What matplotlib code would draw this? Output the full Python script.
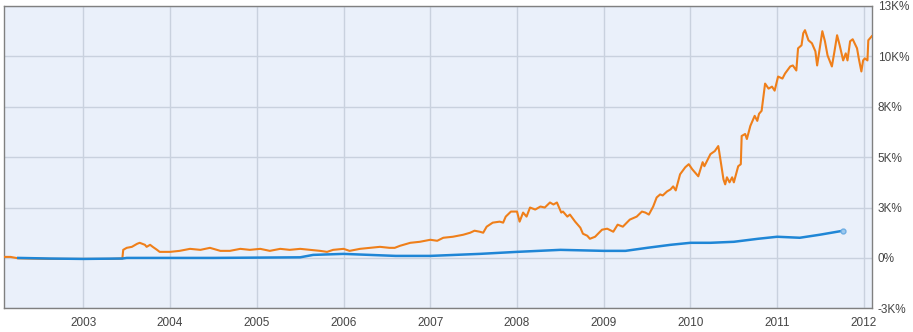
import numpy as np
import matplotlib.pyplot as plt

# =========================
# 数据（年份小数, 百分比）
# =========================

orange_x = [
    2002.09, 2002.16, 2002.25, 2002.62, 2003.00, 2003.31, 2003.45, 2003.46, 2003.50, 2003.56,
    2003.62, 2003.65, 2003.71, 2003.73, 2003.77, 2003.80, 2003.85, 2003.88, 2004.00, 2004.11,
    2004.23, 2004.35, 2004.46, 2004.58, 2004.69, 2004.81, 2004.92, 2005.04, 2005.15, 2005.27,
    2005.38, 2005.50, 2005.61, 2005.73, 2005.81, 2005.88, 2006.00, 2006.07, 2006.19, 2006.30,
    2006.42, 2006.53, 2006.59, 2006.65, 2006.77, 2006.88, 2007.00, 2007.08, 2007.15, 2007.26,
    2007.38, 2007.46, 2007.51, 2007.57, 2007.61, 2007.65, 2007.72, 2007.80, 2007.84, 2007.87,
    2007.93, 2008.00, 2008.03, 2008.07, 2008.11, 2008.15, 2008.21, 2008.27, 2008.32, 2008.38,
    2008.42, 2008.46, 2008.51, 2008.53, 2008.58, 2008.61, 2008.67, 2008.73, 2008.76, 2008.81,
    2008.84, 2008.90, 2008.98, 2009.04, 2009.11, 2009.16, 2009.22, 2009.30, 2009.38, 2009.44,
    2009.48, 2009.52, 2009.57, 2009.61, 2009.65, 2009.68, 2009.73, 2009.77, 2009.80, 2009.83,
    2009.88, 2009.94, 2009.98, 2010.02, 2010.09, 2010.14, 2010.16, 2010.23, 2010.28, 2010.32,
    2010.33, 2010.38, 2010.40, 2010.42, 2010.45, 2010.48, 2010.50, 2010.55, 2010.58, 2010.59,
    2010.63, 2010.65, 2010.69, 2010.74, 2010.77, 2010.79, 2010.82, 2010.86, 2010.90, 2010.94,
    2010.97, 2011.01, 2011.06, 2011.09, 2011.15, 2011.18, 2011.22, 2011.24, 2011.28, 2011.30,
    2011.32, 2011.36, 2011.40, 2011.44, 2011.46, 2011.49, 2011.52, 2011.55, 2011.58, 2011.63,
    2011.66, 2011.69, 2011.72, 2011.76, 2011.79, 2011.81, 2011.84, 2011.87, 2011.92, 2011.94,
    2011.97, 2011.99, 2012.01, 2012.04, 2012.05, 2012.09,
]
orange_y = [
    50, 50, -20, -50, -50, -50, -30, 400, 500, 550,
    700, 750, 650, 550, 650, 550, 400, 300, 300, 350,
    450, 400, 500, 350, 350, 450, 400, 450, 350, 450,
    400, 450, 400, 350, 300, 400, 450, 350, 450, 500,
    550, 500, 500, 600, 750, 800, 900, 850, 1000, 1050,
    1150, 1250, 1350, 1300, 1250, 1550, 1750, 1800, 1750, 2050,
    2300, 2300, 1800, 2250, 2050, 2500, 2400, 2550, 2500, 2750,
    2650, 2750, 2250, 2300, 2050, 2150, 1800, 1500, 1200, 1100,
    950, 1050, 1400, 1450, 1300, 1650, 1550, 1900, 2050, 2300,
    2250, 2150, 2550, 3000, 3150, 3100, 3300, 3400, 3550, 3350,
    4150, 4500, 4650, 4400, 4050, 4750, 4550, 5150, 5300, 5550,
    5300, 3900, 3650, 4000, 3750, 4000, 3750, 4550, 4650, 6050,
    6150, 5900, 6550, 7050, 6800, 7150, 7300, 8650, 8400, 8500,
    8300, 9000, 8900, 9150, 9500, 9550, 9300, 10400, 10550, 11150,
    11300, 10800, 10650, 10250, 9550, 10400, 11250, 10750, 10050, 9500,
    10250, 11050, 10550, 9800, 10150, 9800, 10750, 10850, 10400, 9900,
    9250, 9800, 9900, 9800, 10800, 11000,
]

blue_x = [
    2002.25, 2002.60, 2003.00, 2003.45, 2003.50, 2004.50, 2005.50, 2005.65, 2006.00, 2006.60,
    2007.00, 2007.57, 2008.00, 2008.50, 2009.00, 2009.25, 2009.50, 2009.77, 2010.00, 2010.23,
    2010.50, 2010.78, 2011.00, 2011.26, 2011.49, 2011.76,
]
blue_y = [
    0, -30, -50, -30, 0, 0, 30, 150, 200, 100,
    100, 200, 300, 400, 350, 350, 500, 650, 750, 750,
    800, 950, 1050, 1000, 1150, 1350,
]

years = list(range(2003, 2013))
y_ticks = [-2500, 0, 2500, 5000, 7500, 10000, 12500]
y_labels = ["-3K%", "0%", "3K%", "5K%", "8K%", "10K%", "13K%"]

# =========================
# 绘图
# =========================

plt.rcParams["font.family"] = ["Liberation Sans", "DejaVu Sans"]

fig = plt.figure(figsize=(9.13, 3.32), dpi=100)
ax = fig.add_axes([4.3 / 913, 1 - 308.3 / 332, 868 / 913, 302.3 / 332])

ax.set_facecolor("#EAF0FA")

ax.plot(orange_x, orange_y, color="#EF7F1A", linewidth=1.5, zorder=3)
ax.plot(blue_x, blue_y, color="#1F86D6", linewidth=1.8, zorder=4)
ax.plot(blue_x[-1], blue_y[-1], "o", markersize=3.5,
        markerfacecolor="#9CC8EE", markeredgecolor="#6FAEE3", zorder=5)

ax.set_xlim(2002.089, 2012.096)
ax.set_ylim(-2500, 12500)

ax.set_xticks(years)
ax.set_xticklabels([str(y) for y in years])
ax.set_yticks(y_ticks)
ax.set_yticklabels(y_labels)

ax.yaxis.tick_right()
ax.tick_params(axis="both", length=0, labelsize=8.5, colors="#444444")
ax.tick_params(axis="x", pad=6)
ax.tick_params(axis="y", pad=4)

ax.grid(True, color="#C9D1DE", linewidth=1)
ax.set_axisbelow(True)

for s in ax.spines.values():
    s.set_color("#808080")
    s.set_linewidth(1)

fig.savefig("out.png", dpi=100)
